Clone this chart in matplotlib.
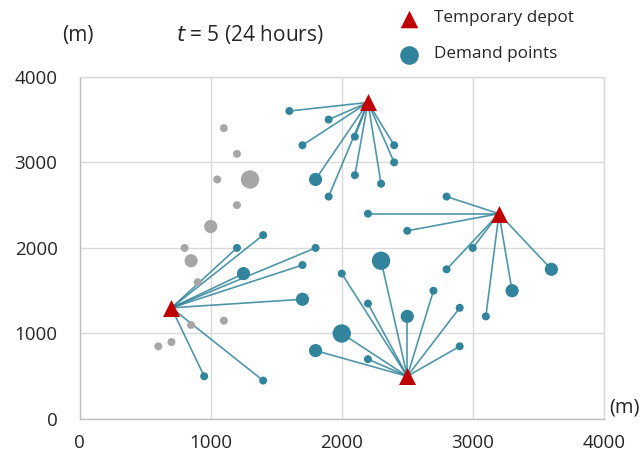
import numpy as np
import matplotlib.pyplot as plt

plt.rcParams['font.family'] = ['Open Sans', 'DejaVu Sans']

# temporary depots
depot_x = [700, 2200, 3200, 2500]
depot_y = [1300, 3700, 2400, 500]

# served demand points: x, y, size class (0 small, 1 medium, 2 large), depot index
dem_x = [1400, 1200, 1800, 1700, 1250, 1700, 950, 1400,
         1600, 1900, 1700, 2100, 2400, 2400, 1800, 2100, 2300, 1900,
         2800, 2200, 2500, 3000, 2800, 3600, 3300, 3100,
         2300, 2000, 2700, 2200, 2500, 2900, 2000, 2900, 1800, 2200]
dem_y = [2150, 2000, 2000, 1800, 1700, 1400, 500, 450,
         3600, 3500, 3200, 3300, 3200, 3000, 2800, 2850, 2750, 2600,
         2600, 2400, 2200, 2000, 1750, 1750, 1500, 1200,
         1850, 1700, 1500, 1350, 1200, 1300, 1000, 850, 800, 700]
dem_size = [0, 0, 0, 0, 1, 1, 0, 0,
            0, 0, 0, 0, 0, 0, 1, 0, 0, 0,
            0, 0, 0, 0, 0, 1, 1, 0,
            2, 0, 0, 0, 1, 0, 2, 0, 1, 0]
dem_depot = [0] * 8 + [1] * 10 + [2] * 8 + [3] * 10

# unserved demand points (grey)
grey_x = [1100, 1200, 1300, 1050, 1200, 1000, 800, 850, 900, 850, 1100, 700, 600]
grey_y = [3400, 3100, 2800, 2800, 2500, 2250, 2000, 1850, 1600, 1100, 1150, 900, 850]
grey_size = [0, 0, 2, 0, 0, 1, 0, 1, 0, 0, 0, 0, 0]

sizes = [33, 90, 175]
teal = '#31849B'
txt = '#262626'

fig = plt.figure(figsize=(6.43, 4.57), dpi=100)
ax = fig.add_axes([0.124, 0.083, 0.815, 0.749])

for i in range(len(dem_x)):
    d = dem_depot[i]
    ax.plot([depot_x[d], dem_x[i]], [depot_y[d], dem_y[i]], color=teal,
            lw=1.2, alpha=0.85, zorder=2)

ax.scatter(grey_x, grey_y, s=[sizes[k] for k in grey_size], color='#A6A6A6',
           zorder=3, linewidths=0)
ax.scatter(dem_x, dem_y, s=[sizes[k] for k in dem_size], color=teal,
           zorder=3, linewidths=0)
ax.scatter(depot_x, depot_y, marker='^', s=150, color='#C00000', zorder=4,
           linewidths=0)

ax.set_xlim(0, 4000)
ax.set_ylim(0, 4000)
ax.set_xticks(np.arange(0, 4001, 1000))
ax.set_yticks(np.arange(0, 4001, 1000))
ax.grid(True, color='#D9D9D9', lw=1)
ax.set_axisbelow(True)
for s in ax.spines.values():
    s.set_color('#D9D9D9')
    s.set_linewidth(1)
ax.spines['left'].set_color('#BFBFBF')
ax.spines['bottom'].set_color('#BFBFBF')
ax.tick_params(length=0, labelsize=13.5, labelcolor=txt)
ax.tick_params(axis='x', pad=11)
ax.tick_params(axis='y', pad=16)

fig.text(78 / 643, 1 - 35 / 457, '(m)', fontsize=15, color=txt,
         ha='center', va='center')
fig.text(624 / 643, 1 - 408 / 457, '(m)', fontsize=14.5, color=txt,
         ha='center', va='center')
fig.text(250 / 643, 1 - 35 / 457, r'$\mathit{t}$ = 5 (24 hours)', fontsize=15,
         color=txt, ha='center', va='center')

# legend
ax.scatter([409 / 643], [1 - 19 / 457], marker='^', s=160, color='#C00000',
           linewidths=0, transform=fig.transFigure, clip_on=False)
fig.text(434 / 643, 1 - 18 / 457, 'Temporary depot', fontsize=12.3,
         color=txt, ha='left', va='center')
ax.scatter([409 / 643], [1 - 55 / 457], s=180, color=teal, linewidths=0,
           transform=fig.transFigure, clip_on=False)
fig.text(434 / 643, 1 - 54 / 457, 'Demand points', fontsize=12.3,
         color=txt, ha='left', va='center')

fig.savefig('out.png', dpi=100)
